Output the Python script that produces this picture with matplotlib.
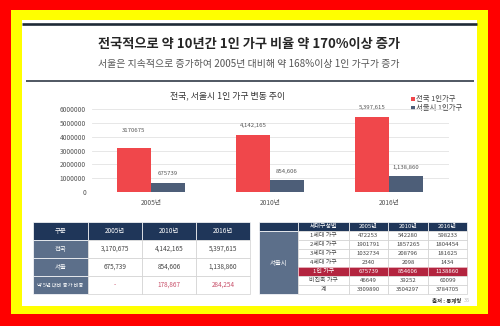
import numpy as np
import matplotlib
matplotlib.use('Agg')
import matplotlib.pyplot as plt
from matplotlib.patches import Rectangle

plt.rcParams['font.family'] = ['Noto Sans CJK KR', 'DejaVu Sans']

# chart data
years = ['2005년', '2010년', '2016년']
nation = [3170675, 4142165, 5397615]
seoul = [675739, 854606, 1138860]
nation_labels = ['3170675', '4,142,165', '5,397,615']
seoul_labels = ['675739', '854,606', '1,138,860']
yticks = [0, 1000000, 2000000, 3000000, 4000000, 5000000, 6000000]

# left table
left_header = ['구분', '2005년', '2010년', '2016년']
left_rows = [
    ['전국', '3,170,675', '4,142,165', '5,397,615'],
    ['서울', '675,739', '854,606', '1,138,860'],
    ['약 5년 대비 증가 비중', '-', '178,867', '284,254'],
]

# right table
right_header = ['세대구성별', '2005년', '2010년', '2016년']
right_group = '서울시'
right_rows = [
    ['1세대 가구', '472253', '542280', '598233'],
    ['2세대 가구', '1901791', '1857265', '1804454'],
    ['3세대 가구', '1032734', '208796', '181625'],
    ['4세대 가구', '2340', '2098', '1434'],
    ['1인 가구', '675739', '854606', '1138860'],
    ['비친족 가구', '46649', '39252', '60099'],
    ['계', '3309890', '3504297', '3784705'],
]

RED = '#f0474b'
NAVY = '#4d5e78'
HEAD = '#1f3659'
SIDE = '#5c6f8a'
GRID = '#c9c9c9'

fig = plt.figure(figsize=(5, 3.26), dpi=100)
bg = fig.add_axes([0, 0, 1, 1])
bg.set_xlim(0, 500)
bg.set_ylim(326, 0)
bg.axis('off')

# frame
bg.add_patch(Rectangle((0, 0), 500, 326, color='#ff0000', lw=0))
bg.add_patch(Rectangle((11, 10), 477, 304, color='#ffff00', lw=0))
bg.add_patch(Rectangle((22, 20), 455, 286, color='white', lw=0))
bg.plot([22, 477], [24, 24], color='#1f2a38', lw=1.9, solid_capstyle='butt')
bg.plot([26, 474], [81, 81], color='#1f2a38', lw=1.1, solid_capstyle='butt')

bg.text(249, 44, '전국적으로 약 10년간 1인 가구 비율 약 170%이상 증가', ha='center', va='center',
        fontsize=9.5, fontweight='bold', color='#262626')
bg.text(249, 64, '서울은 지속적으로 증가하여 2005년 대비해 약 168%이상 1인 가구가 증가', ha='center',
        va='center', fontsize=7.1, color='#555555')
bg.text(228, 96, '전국, 서울시 1인 가구 변동 추이', ha='center', va='center', fontsize=6.4, color='#333333')

# legend
bg.add_patch(Rectangle((411, 97), 3.5, 3.5, color=RED, lw=0))
bg.text(416, 99, '전국 1인가구', va='center', fontsize=5.3, color='#444444')
bg.add_patch(Rectangle((411, 106), 3.5, 3.5, color=NAVY, lw=0))
bg.text(416, 108, '서울시 1인가구', va='center', fontsize=5.3, color='#444444')

# bar chart
ax = fig.add_axes([91.5 / 500, (326 - 192) / 326, 357 / 500, 83 / 326])
ax.set_facecolor('none')
x = np.arange(len(years))
w = 0.286
ax.bar(x - w / 2, nation, w, color=RED, zorder=3)
ax.bar(x + w / 2, seoul, w, color=NAVY, zorder=3)
ax.set_xlim(-0.5, 2.5)
ax.set_ylim(0, 6000000)
ax.set_yticks(yticks)
ax.set_yticklabels([str(v) for v in yticks])
ax.set_xticks(x)
ax.set_xticklabels(years)
ax.grid(axis='y', color='#e3e3e3', lw=0.6, zorder=0)
for s in ax.spines.values():
    s.set_visible(False)
ax.tick_params(length=0, labelsize=4.8, labelcolor='#555555', pad=4)
ax.tick_params(axis='x', pad=5)
nat_off = [11, 5, 5]
for i in range(len(years)):
    ax.annotate(nation_labels[i], (x[i] - w / 2, nation[i]), xytext=(0, nat_off[i]),
                textcoords='offset points', ha='center', va='bottom', fontsize=4.3, color='#555555')
    ax.annotate(seoul_labels[i], (x[i] + w / 2, seoul[i]), xytext=(0, 4.5),
                textcoords='offset points', ha='center', va='bottom', fontsize=4.3, color='#555555')

# left table
lx = [33, 88, 142, 196, 250]
ly = [222, 240, 258, 276, 294]
for j in range(4):
    bg.add_patch(Rectangle((lx[j], ly[0]), lx[j + 1] - lx[j], ly[1] - ly[0], facecolor=HEAD,
                           edgecolor='white', lw=0.5))
    bg.text((lx[j] + lx[j + 1]) / 2, (ly[0] + ly[1]) / 2, left_header[j], ha='center', va='center',
            fontsize=4.6, color='white')
for i, row in enumerate(left_rows):
    for j in range(4):
        fc = SIDE if j == 0 else 'white'
        bg.add_patch(Rectangle((lx[j], ly[i + 1]), lx[j + 1] - lx[j], ly[i + 2] - ly[i + 1], facecolor=fc,
                               edgecolor='#d0d0d0' if j else 'white', lw=0.5))
        if j == 0:
            col, fs = 'white', (3.8 if i == 2 else 4.6)
        else:
            col, fs = ('#c8506a' if i == 2 else '#444444'), 4.6
        bg.text((lx[j] + lx[j + 1]) / 2, (ly[i + 1] + ly[i + 2]) / 2, row[j], ha='center', va='center',
                fontsize=fs, color=col)

# right table
rx = [259, 298, 349, 388, 428, 467]
ry = [222] + [231 + 9 * k for k in range(len(right_rows) + 1)]
bg.add_patch(Rectangle((rx[0], ry[0]), rx[1] - rx[0], ry[1] - ry[0], facecolor=HEAD, edgecolor='white', lw=0.5))
bg.add_patch(Rectangle((rx[0], ry[1]), rx[1] - rx[0], ry[-1] - ry[1], facecolor=SIDE, edgecolor='white', lw=0.5))
bg.text((rx[0] + rx[1]) / 2, (ry[1] + ry[-1]) / 2, right_group, ha='center', va='center', fontsize=4.6,
        color='white')
for j in range(4):
    bg.add_patch(Rectangle((rx[j + 1], ry[0]), rx[j + 2] - rx[j + 1], ry[1] - ry[0], facecolor=HEAD,
                           edgecolor='white', lw=0.5))
    bg.text((rx[j + 1] + rx[j + 2]) / 2, (ry[0] + ry[1]) / 2, right_header[j], ha='center', va='center',
            fontsize=4.3, color='white')
for i, row in enumerate(right_rows):
    hl = row[0] == '1인 가구'
    for j in range(4):
        bg.add_patch(Rectangle((rx[j + 1], ry[i + 1]), rx[j + 2] - rx[j + 1], 9,
                               facecolor='#b3243f' if hl else 'white',
                               edgecolor='#f0c0c8' if hl else '#d0d0d0', lw=0.5))
        bg.text((rx[j + 1] + rx[j + 2]) / 2, ry[i + 1] + 4.5, row[j], ha='center', va='center',
                fontsize=4.3, color='white' if hl else '#444444')

bg.text(461, 300, '출처 : 통계청', ha='right', va='center', fontsize=3.9, fontweight='bold', color='#333333')
bg.text(464, 300, '35', ha='left', va='center', fontsize=4, color='#bbbbbb')

fig.savefig('out.png', dpi=100)
